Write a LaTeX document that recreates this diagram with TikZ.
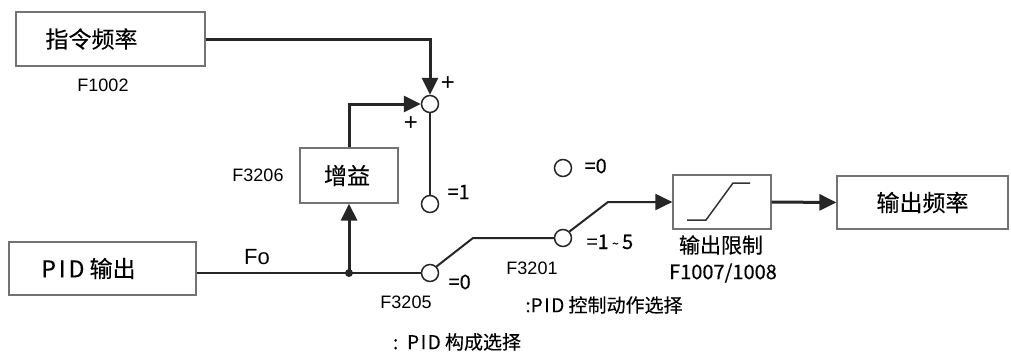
\documentclass[tikz,border=0pt]{standalone}
\usepackage{fontspec}
\setmainfont{Liberation Sans}
\newfontfamily\cjk[FakeBold=0.3]{Noto Sans CJK SC}
\usetikzlibrary{arrows.meta}

\begin{document}
\begin{tikzpicture}[x=1pt,y=-1pt,
        component/.style={
            draw=black!55,
            rectangle,
            line width=1.2pt,
            inner sep=0pt,
            font=\cjk\fontsize{23}{26}\selectfont
        },
        switch/.style={
            draw=black!85,
            circle,
            line width=1.5pt,
            fill=white,
            inner sep=0pt,
            minimum size=17pt
        },
        wire/.style={
            draw=black!85,
            line width=2pt
        },
        signal/.style={
            draw=black!85,
            line width=3pt
        },
        arrow/.style={
            -{Triangle[length=17pt,width=16pt]}
        },
        param/.style={
            font=\fontsize{18}{20}\selectfont
        },
        setting/.style={
            anchor=west,
            font=\cjk\fontsize{20}{22}\selectfont
        },
        remark/.style={
            font=\cjk\fontsize{19}{22}\selectfont
        }
    ]
    \useasboundingbox (0,0) rectangle (1011,354);

    % blocks
    \node[component, minimum width=189pt, minimum height=54pt] (cmd) at (110.5,39) {指令频率\hspace*{38pt}};
    \node[component, minimum width=98pt, minimum height=55pt] (gain) at (349,175.5) {增益\hspace*{4pt}};
    \node[component, minimum width=187pt, minimum height=53pt] (pid) at (102.5,268.5) {P\kern3pt I\kern3pt D 输出\hspace*{28pt}};
    \node[component, minimum width=98pt, minimum height=54pt] (limit) at (722,202) {};
    \node[component, minimum width=171pt, minimum height=53pt] (out) at (922.5,202.5) {输出频率};

    % switch contacts
    \node[switch] (sum) at (430,104) {};
    \node[switch] (c1) at (430,204) {};
    \node[switch] (c0) at (430,273) {};
    \node[switch] (d0) at (563,168) {};
    \node[switch] (d15) at (563,238) {};

    \coordinate (tap) at (349,273);
    \coordinate (k1) at (473,238);
    \coordinate (k2) at (608,202);

    % connectors
    \draw[signal, arrow] (cmd.east) -| (sum.north);
    \draw[signal, arrow] (gain.north) |- (sum.west);
    \draw[wire] (sum.south) -- (c1.north);
    \draw[wire] (pid.east |- c0) -- (c0.west);
    \draw[signal, arrow] (tap) -- (gain.south);
    \fill[black!85] (tap) circle (4);
    \draw[wire] (c0.north east) -- (k1) -- (d15.west);
    \draw[wire, arrow] (d15.north east) -- (k2) -- (limit.west);
    \draw[signal, arrow] (limit.east) -- (out.west);

    % limiter curve
    \draw[black!80, line width=1.5pt] (687,220) -- (706,220) -- (733,183) -- (750,183);

    % labels
    \node[param] (f1002) at (103,85) {F1002};
    \node[param] (f3206) at (258,175) {F3206};
    \node[param] (f3205) at (406,302) {F3205};
    \node[param] (f3201) at (532,268) {F3201};
    \node[font=\fontsize{22}{22}\selectfont] (fo) at (257,257) {Fo};
    \node[font=\fontsize{24}{24}\selectfont] (p1) at (448,84) {+};
    \node[font=\fontsize{24}{24}\selectfont] (p2) at (411,124) {+};
    \node[setting] (s1) at (444,192) {=1};
    \node[setting] (s0) at (581,166) {=0};
    \node[setting] (s15) at (583,242) {=1\,\raisebox{1pt}{\fontsize{12}{12}\selectfont\textasciitilde}\,5};
    \node[setting] (s00) at (445,282) {=0};
    \node[font=\cjk\fontsize{21}{22}\selectfont] (lim) at (721,245) {输出限制};
    \node[font=\cjk\fontsize{20}{22}\selectfont] (lim2) at (723,273) {F1007/1008};
    \node[remark] (r1) at (604,305) {:P\kern1.5pt I\kern1.5pt D 控制动作选择};
    \node[remark] (r2) at (457,342) {:\, P\kern1.5pt I\kern1.5pt D 构成选择};
\end{tikzpicture}
\end{document}
